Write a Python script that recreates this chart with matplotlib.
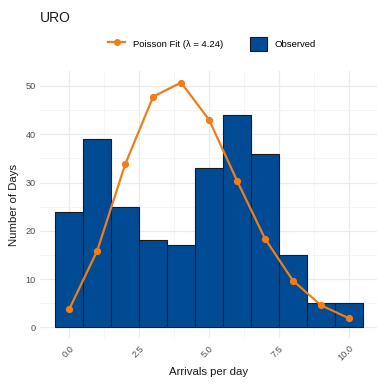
import matplotlib
matplotlib.use("Agg")
import matplotlib.pyplot as plt
from matplotlib.lines import Line2D
from matplotlib.patches import Patch

plt.rcParams['font.family'] = ['Liberation Sans', 'DejaVu Sans']

arrivals = [0, 1, 2, 3, 4, 5, 6, 7, 8, 9, 10]
observed_days = [24, 39, 25, 18, 17, 33, 44, 36, 15, 5, 5]
poisson_fit = [3.8, 15.9, 33.8, 47.8, 50.7, 43.0, 30.4, 18.4, 9.7, 4.6, 1.9]
lam = 4.24
x_ticks = [0.0, 2.5, 5.0, 7.5, 10.0]
y_ticks = [0, 10, 20, 30, 40, 50]

bar_color = "#004B93"
line_color = "#F07D1B"
grid_color = "#EBEBEB"

fig = plt.figure(figsize=(3.77, 3.85), dpi=100)
ax = fig.add_axes([40 / 377, 1 - 338 / 385, 337 / 377, (338 - 71) / 385])

ax.bar(arrivals, observed_days, width=1.0, color=bar_color,
       edgecolor="#1a1a1a", linewidth=0.8, zorder=2)
ax.plot(arrivals, poisson_fit, color=line_color, linewidth=1.6,
        marker="o", markersize=4.2, zorder=3)

ax.set_xlim(-1.05, 11.01)
ax.set_ylim(-2.2, 53.1)

ax.set_xticks(x_ticks)
ax.set_xticklabels([f"{t:.1f}" for t in x_ticks], rotation=45,
                   ha="right", va="top", rotation_mode="anchor")
ax.set_yticks(y_ticks)
ax.set_xticks([1.25, 3.75, 6.25, 8.75], minor=True)
ax.set_yticks([5, 15, 25, 35, 45], minor=True)

ax.grid(True, which="major", color=grid_color, linewidth=0.9, zorder=0)
ax.grid(True, which="minor", color="#F4F4F4", linewidth=0.6, zorder=0)
ax.set_axisbelow(True)
for s in ax.spines.values():
    s.set_visible(False)
ax.tick_params(which="both", length=0)
ax.tick_params(axis="both", labelsize=6.6, labelcolor="#4D4D4D")
ax.tick_params(axis="x", pad=4)
ax.tick_params(axis="y", pad=3)

ax.set_xlabel("Arrivals per day", fontsize=8.2, color="#1a1a1a", labelpad=3)
ax.set_ylabel("Number of Days", fontsize=8.2, color="#1a1a1a", labelpad=5)

fig.text(40 / 377, 1 - 18 / 385, "URO", fontsize=10, color="#1a1a1a",
         ha="left", va="center")

handles = [
    Line2D([0], [0], color=line_color, linewidth=1.6, marker="o", markersize=4),
    Patch(facecolor=bar_color, edgecolor="#1a1a1a", linewidth=0.8),
]
labels = [f"Poisson Fit (\u03bb = {lam:.2f})", "Observed"]
fig.legend(handles, labels, loc="center", bbox_to_anchor=(212 / 377, 1 - 44 / 385),
           ncol=2, frameon=False, fontsize=6.8, handlelength=1.8,
           handleheight=2.0, columnspacing=2.8, handletextpad=0.8)

fig.savefig("out.png", dpi=100)
